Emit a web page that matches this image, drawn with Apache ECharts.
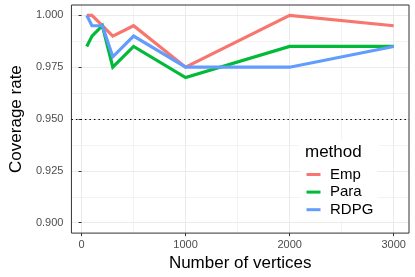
<!DOCTYPE html>
<html><head><meta charset="utf-8">
<script src="https://cdn.jsdelivr.net/npm/echarts@6/dist/echarts.min.js"></script>
<style>html,body{margin:0;padding:0;background:#fff}#c{width:415px;height:277px}</style>
</head><body><div id="c"></div>
<script>
const vertices = [50, 100, 200, 300, 500, 1000, 2000, 3000];
const emp  = [1.000, 1.000, 0.995, 0.990, 0.995, 0.975, 1.000, 0.995];
const para = [0.985, 0.990, 0.995, 0.975, 0.985, 0.970, 0.985, 0.985];
const rdpg = [1.000, 0.995, 0.995, 0.980, 0.990, 0.975, 0.975, 0.985];
const xTicks = [0, 1000, 2000, 3000];
const xMinor = [500, 1500, 2500];
const yTicks = [0.900, 0.925, 0.950, 0.975, 1.000];
const yMinor = [0.9125, 0.9375, 0.9625, 0.9875];
const refLine = 0.95;
const seriesNames = ['Emp', 'Para', 'RDPG'];
const colors = ['#F8766D', '#00BA38', '#619CFF'];

const chart = echarts.init(document.getElementById('c'), null, {renderer: 'canvas'});
const font = 'Liberation Sans, Arial, sans-serif';
function pairs(ys){ return vertices.map((x,i)=>[x, ys[i]]); }
const gridLines = [];
xTicks.forEach(v=>gridLines.push([{coord:[v,0.895],lineStyle:{width:1,color:'#EBEBEB',type:'solid'}},{coord:[v,1.005]}]));
xMinor.forEach(v=>gridLines.push([{coord:[v,0.895],lineStyle:{width:0.6,color:'#EBEBEB',type:'solid'}},{coord:[v,1.005]}]));
yTicks.forEach(v=>gridLines.push([{coord:[-97.5,v],lineStyle:{width:1,color:'#EBEBEB',type:'solid'}},{coord:[3147.5,v]}]));
yMinor.forEach(v=>gridLines.push([{coord:[-97.5,v],lineStyle:{width:0.6,color:'#EBEBEB',type:'solid'}},{coord:[3147.5,v]}]));

const option = {
  animation: false,
  backgroundColor: '#fff',
  grid: {left: 58, right: 6, top: 5, bottom: 40, show: true, borderColor: '#333333', borderWidth: 1, backgroundColor: 'transparent', z: 5},
  xAxis: {
    type: 'value', min: -97.5, max: 3147.5,
    name: 'Number of vertices', nameLocation: 'middle', nameGap: 16,
    nameTextStyle: {fontFamily: font, fontSize: 17, color: '#000'},
    axisLine: {show: false},
    axisTick: {show: true, length: 3, lineStyle: {color: '#333333'}, customValues: xTicks},
    axisLabel: {customValues: xTicks, fontFamily: font, fontSize: 11, color: '#4D4D4D', margin: 6,
      formatter: v => String(v)},
    splitLine: {show: false}
  },
  yAxis: {
    type: 'value', min: 0.895, max: 1.005,
    name: 'Coverage rate', nameLocation: 'middle', nameGap: 41,
    nameTextStyle: {fontFamily: font, fontSize: 17, color: '#000'},
    axisLine: {show: false},
    axisTick: {show: true, length: 3, lineStyle: {color: '#333333'}, customValues: yTicks},
    axisLabel: {customValues: yTicks, fontFamily: font, fontSize: 11, color: '#4D4D4D', margin: 8,
      formatter: v => v.toFixed(3)},
    splitLine: {show: false}
  },
  legend: {
    data: seriesNames, orient: 'vertical', left: 300.5, top: 165,
    itemWidth: 14, itemHeight: 3, itemGap: 2.6, padding: [2, 4, 4, 6],
    backgroundColor: '#fff',
    icon: 'rect',
    textStyle: {fontFamily: font, fontSize: 15, color: '#000', padding: [0,0,0,4.5]}
  },
  graphic: [
    {type: 'rect', left: 299, top: 140, shape: {width: 80, height: 27}, style: {fill: '#fff'}, z: 1},
    {type: 'text', left: 305, top: 144, style: {text: 'method', font: '17px Liberation Sans, Arial, sans-serif', fill: '#000'}, z: 10}
  ],
  series: [
    {name: '_grid', type: 'line', data: [], silent: true, z: 0,
      markLine: {silent: true, symbol: 'none', label: {show: false}, animation: false, data: gridLines, z: 0}},
    {name: '_ref', type: 'line', data: [], silent: true, z: 1,
      markLine: {silent: true, symbol: 'none', label: {show: false}, animation: false,
        lineStyle: {color: '#000', type: [1.5, 3], width: 1},
        data: [[{coord: [-97.5, refLine]}, {coord: [3147.5, refLine]}]]}},
    ...seriesNames.map((n, i) => ({
      name: n, type: 'line', data: pairs([emp, para, rdpg][i]), showSymbol: false, symbol: 'none',
      lineStyle: {width: 3.2, color: colors[i], join: 'miter'}, itemStyle: {color: colors[i]}, z: 3 + i
    }))
  ]
};
chart.setOption(option);
</script></body></html>
